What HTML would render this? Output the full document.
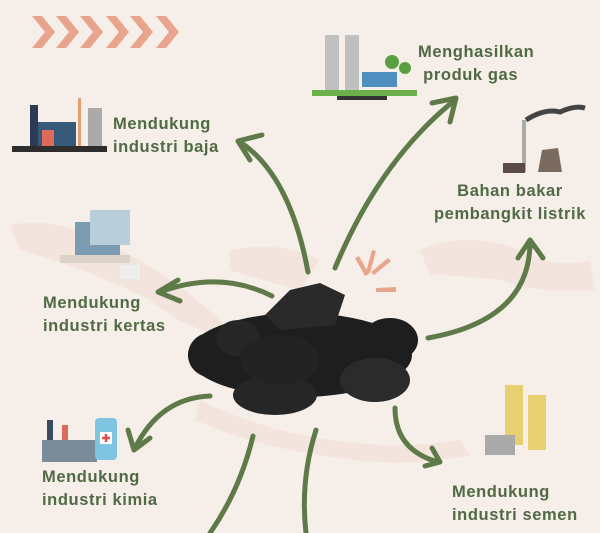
<!DOCTYPE html>
<html><head><style>
body{margin:0;width:600px;height:533px;overflow:hidden;background:#f6efe9;font-family:"Liberation Sans",sans-serif}
.t{position:absolute;color:#4f6a44;font-weight:bold;font-size:16.5px;line-height:23px;letter-spacing:0.6px}
</style></head><body>
<svg width="600" height="533" style="position:absolute;left:0;top:0">
<g fill="#f2e2da" opacity="0.8">
<path d="M10 225 Q60 215 120 250 Q180 280 230 330 Q200 340 150 300 Q90 270 20 250Z"/>
<path d="M230 250 Q280 240 320 260 L300 290 Q260 280 230 270Z"/>
<path d="M200 400 Q260 430 330 440 Q400 450 460 440 L470 455 Q400 470 320 455 Q250 445 195 420Z"/>
<path d="M420 250 Q470 230 520 250 Q560 270 590 260 L595 290 Q540 295 500 280 Q460 275 430 275Z"/>
</g>
<g fill="#e9a48d">
<path d="M32 16 L42 16 L55 32 L42 48 L32 48 L45 32Z"/>
<path d="M56 16 L66 16 L79 32 L66 48 L56 48 L69 32Z"/>
<path d="M80 16 L90 16 L103 32 L90 48 L80 48 L93 32Z"/>
<path d="M106 16 L116 16 L129 32 L116 48 L106 48 L119 32Z"/>
<path d="M130 16 L140 16 L153 32 L140 48 L130 48 L143 32Z"/>
<path d="M156 16 L166 16 L179 32 L166 48 L156 48 L169 32Z"/>
</g>
<g fill="#e9a48d">
<path d="M355 258 l4 -2 l10 18 l-4 2Z"/><path d="M372 250 l4 1 l-6 22 l-4-1Z"/><path d="M388 258 l3 3 l-17 14 l-3-3Z"/><path d="M396 292 l0-5 l-20 1 l0 4Z"/>
</g>
<g fill="none" stroke="#5e7a48" stroke-width="5" stroke-linecap="round" stroke-linejoin="round">
<path d="M308 272 Q290 175 240 142"/><path d="M262 135 L238 141 L250 160"/>
<path d="M335 268 Q380 160 455 100"/><path d="M432 103 L456 98 L450 122"/>
<path d="M428 338 Q530 320 530 242"/><path d="M518 258 L530 240 L543 258"/>
<path d="M272 296 Q220 270 160 292"/><path d="M178 280 L158 292 L180 301"/>
<path d="M210 396 Q160 398 135 448"/><path d="M128 430 L134 450 L150 438"/>
<path d="M395 408 Q395 450 438 462"/><path d="M432 448 L440 462 L425 466"/>
<path d="M316 430 Q300 480 306 533"/>
<path d="M253 436 Q240 490 210 533"/>
</g>
<g fill="#1e1e1e">
<ellipse cx="300" cy="355" rx="112" ry="42"/>
<path d="M265 315 L290 290 L320 283 L345 295 L335 325 L280 330Z" fill="#2a2a2a"/>
<ellipse cx="210" cy="355" rx="22" ry="22"/>
<ellipse cx="238" cy="338" rx="22" ry="18" fill="#262626"/>
<ellipse cx="390" cy="340" rx="28" ry="22"/>
<ellipse cx="375" cy="380" rx="35" ry="22" fill="#2b2b2b"/>
<ellipse cx="275" cy="395" rx="42" ry="20" fill="#262626"/>
<ellipse cx="280" cy="360" rx="40" ry="25" fill="#232323"/>
</g>
<g>
<rect x="12" y="146" width="95" height="6" fill="#2d2d2d"/><rect x="38" y="122" width="38" height="24" fill="#355a7a"/><rect x="30" y="105" width="8" height="41" fill="#2d3a55"/><rect x="42" y="130" width="12" height="16" fill="#e06a5a"/><rect x="88" y="108" width="14" height="38" fill="#aaa"/><rect x="78" y="98" width="3" height="48" fill="#e0a070"/>
<rect x="312" y="90" width="105" height="6" fill="#6bb04a"/><rect x="325" y="35" width="14" height="55" fill="#c0c0c0"/><rect x="345" y="35" width="14" height="55" fill="#c0c0c0"/><rect x="362" y="72" width="35" height="15" fill="#4f8fbf"/><circle cx="392" cy="62" r="7" fill="#5aa040"/><circle cx="405" cy="68" r="6" fill="#5aa040"/><rect x="337" y="96" width="50" height="4" fill="#333"/>
<rect x="522" y="120" width="4" height="52" fill="#aaa"/><path d="M526 120 Q545 108 560 112 Q575 105 585 108" stroke="#444" stroke-width="5" fill="none"/><path d="M538 172 L542 150 L558 148 L562 172Z" fill="#7a6a60"/><rect x="503" y="163" width="22" height="10" fill="#5a4a45"/>
<rect x="505" y="385" width="18" height="60" fill="#e8d070"/><rect x="528" y="395" width="18" height="55" fill="#e8d070"/><rect x="485" y="435" width="30" height="20" fill="#aaa"/>
<rect x="75" y="222" width="45" height="35" fill="#7a9bb0"/><rect x="90" y="210" width="40" height="35" fill="#b8cfd9"/><rect x="60" y="255" width="70" height="8" fill="#dbd3c8"/><rect x="120" y="265" width="20" height="14" fill="#eee"/>
<rect x="42" y="440" width="55" height="22" fill="#7a8c99"/><rect x="47" y="420" width="6" height="20" fill="#3a4b5f"/><rect x="62" y="425" width="6" height="15" fill="#e06a5a"/><rect x="95" y="418" width="22" height="42" rx="4" fill="#7fc4e0"/><rect x="100" y="432" width="12" height="12" fill="#fff"/><path d="M106 434v8M102 438h8" stroke="#e04a4a" stroke-width="2.5"/>
</g>
</svg>
<div class="t" style="left:113px;top:113px">Mendukung<br>industri baja</div>
<div class="t" style="left:418px;top:41px">Menghasilkan<br>&nbsp;produk gas</div>
<div class="t" style="left:425px;top:180px;width:170px;text-align:center">Bahan bakar<br>pembangkit listrik</div>
<div class="t" style="left:43px;top:292px">Mendukung<br>industri kertas</div>
<div class="t" style="left:42px;top:466px">Mendukung<br>industri kimia</div>
<div class="t" style="left:452px;top:481px">Mendukung<br>industri semen</div>
</body></html>
